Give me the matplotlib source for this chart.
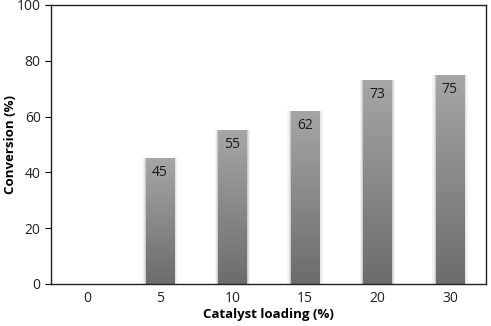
import numpy as np
import matplotlib.pyplot as plt
from matplotlib.colors import LinearSegmentedColormap

# data
loading = ["0", "5", "10", "15", "20", "30"]
conversion = [0, 45, 55, 62, 73, 75]

plt.rcParams["font.family"] = ["Open Sans", "DejaVu Sans"]

fig = plt.figure(figsize=(4.91, 3.26), dpi=100)
ax = fig.add_axes([0.104, 0.129, 0.886, 0.856])

x = np.arange(len(loading))
width = 0.39
grey = LinearSegmentedColormap.from_list("grey", ["#6c6c6c", "#a6a6a6"])
grad = np.linspace(0, 1, 256).reshape(-1, 1)

# soft halo around each bar, then the bar with a vertical gradient
for xi, v in zip(x, conversion):
    if v <= 0:
        continue
    for pad, a in [(0.05, 0.10), (0.03, 0.15), (0.015, 0.25)]:
        ax.bar(xi, v, width=width + 2 * pad, color="#8a8a8a", alpha=a,
               linewidth=0, zorder=1)
    bars = ax.bar(xi, v, width=width, color="none", linewidth=0, zorder=2)
    img = ax.imshow(grad, cmap=grey, origin="lower", aspect="auto",
                    extent=(xi - width / 2, xi + width / 2, 0, v), zorder=2)
    img.set_clip_path(bars[0])
    ax.text(xi, v - 2.5, str(v), ha="center", va="top", fontsize=10,
            color="#1a1a1a", zorder=3)

ax.set_xlim(-0.5, len(loading) - 0.5)
ax.set_ylim(0, 100)
ax.set_xticks(x)
ax.set_xticklabels(loading)
ax.set_yticks(range(0, 101, 20))
ax.tick_params(axis="x", length=0, labelsize=10, pad=5, labelcolor="#222222")
ax.tick_params(axis="y", length=4, labelsize=10, direction="out",
               labelcolor="#222222")
for s in ax.spines.values():
    s.set_color("#222222")
    s.set_linewidth(1.0)

ax.set_xlabel("Catalyst loading (%)", fontsize=9.5, fontweight="bold")
ax.set_ylabel("Conversion (%)", fontsize=9.5, fontweight="bold", va="center")
ax.xaxis.set_label_coords(0.5, -0.085)
ax.yaxis.set_label_coords(-0.094, 0.5)

fig.savefig("out.png", dpi=100)
